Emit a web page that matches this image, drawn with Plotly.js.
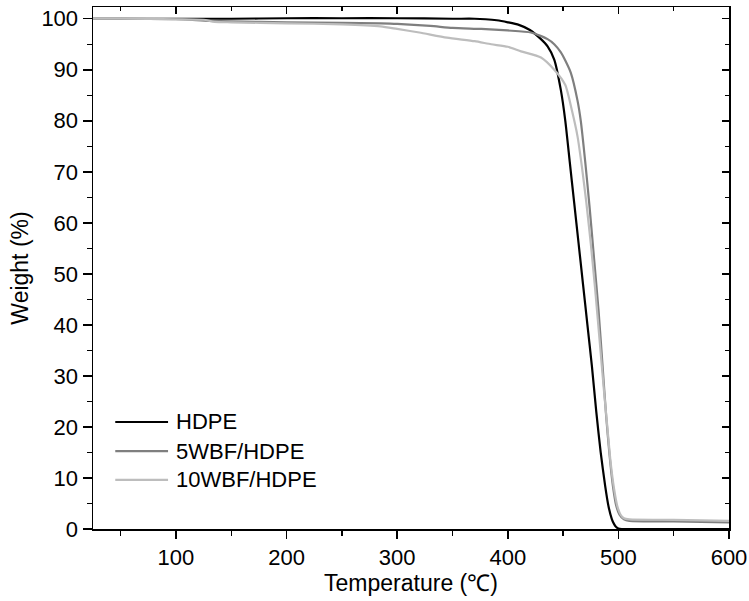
<!DOCTYPE html>
<html>
<head>
<meta charset="utf-8">
<script src="https://cdn.plot.ly/plotly-3.0.1.min.js"></script>
<style>html,body{margin:0;padding:0;background:#fff;}#chart{width:749px;height:601px;}</style>
</head>
<body>
<div id="chart"></div>
<script>
// Temperature (°C) and weight (%)
const hdpeT = [25,50,100,150,200,250,300,350,370,380,390,400,410,420,430,436,442,448,452,456,460,464,468,472,476,480,484,488,491,494,496,498,500,503,510,550,600];
const hdpeW = [100,100,100,100,100.1,100.1,100.1,100,100,99.9,99.7,99.3,98.8,97.8,96,94.6,92,86,80,72,64,56,48,40,32,23,15,8.5,4.5,2,1,0.4,0.1,0,0,0,0];

const wbf5T = [25,50,100,130,150,200,250,285,300,330,350,376,400,421,436,442,448,452,457,463,466,470,474,478,482,486,489,492,495,498,501,505,510,550,600];
const wbf5W = [100,100,99.9,99.6,99.5,99.3,99.2,99.1,99,98.6,98.2,98,97.7,97.3,96,95,93.4,91.8,89.4,84,80,72,63,53,43,31,22,14.5,8.5,4.6,2.8,1.9,1.6,1.5,1.3];

const wbf10T = [25,50,100,125,135,150,200,250,285,300,320,345,370,385,400,412,430,442,452,458,463,467,471,475,479,483,487,490,493,496,499,502,505,510,550,600];
const wbf10W = [100,100,99.9,99.8,99.4,99.3,99.1,98.9,98.5,98,97.3,96.3,95.6,95,94.5,93.6,92.4,90,87,82,77,71,64,56,47,37,27,20,13,8,4.5,2.8,2.1,1.9,1.8,1.6];

const xTicks = [100,200,300,400,500,600];
const yTicks = [0,10,20,30,40,50,60,70,80,90,100];
const seriesNames = ['HDPE','5WBF/HDPE','10WBF/HDPE'];
const seriesColors = ['#000000','#7f7f7f','#bdbdbd'];

const FONT = 'Liberation Sans, Arial, sans-serif';
const xs = [hdpeT, wbf5T, wbf10T];
const ys = [hdpeW, wbf5W, wbf10W];
const traces = xs.map((x,i)=>({
  x: x, y: ys[i], type:'scatter', mode:'lines', name: seriesNames[i],
  line:{color:seriesColors[i], width:2.2, shape:'spline', smoothing:0.6}
}));
// invisible trace to activate the mirrored top/right axes
traces.push({x:[25], y:[0], xaxis:'x2', yaxis:'y2', mode:'markers', marker:{opacity:0}, showlegend:false, hoverinfo:'skip'});

// legend drawn inside the plot (line sample + label per series)
const legRows = [0.205, 0.149, 0.094];
const shapes = seriesNames.map((n,i)=>({type:'line', xref:'paper', yref:'paper', x0:0.035, x1:0.118, y0:legRows[i], y1:legRows[i], line:{color:seriesColors[i], width:2.2}}));
const annotations = seriesNames.map((n,i)=>({text:n, xref:'paper', yref:'paper', x:0.128, y:legRows[i], xanchor:'left', yanchor:'middle', showarrow:false, font:{size:22, family:FONT, color:'#000'}}));

const minorX = [50,150,250,350,450,550];
const minorY = [5,15,25,35,45,55,65,75,85,95];
const xr = [25, 600], yr = [0, 102.3];
const layout = {
  width:749, height:601,
  margin:{l:93, r:20, t:7, b:72},
  paper_bgcolor:'#fff', plot_bgcolor:'#fff',
  font:{family:FONT, size:22, color:'#000'},
  showlegend:false,
  shapes: shapes, annotations: annotations,
  xaxis:{range:xr, tickmode:'array', tickvals:xTicks, ticks:'outside', ticklen:8, tickwidth:1.5, tickcolor:'#000',
    minor:{tickvals:minorX, ticks:'outside', ticklen:5, tickwidth:1.5, tickcolor:'#000'},
    showline:true, linecolor:'#000', linewidth:1.5, showgrid:false, zeroline:false,
    title:{text:'Temperature (℃)', font:{size:23, family:FONT}, standoff:0}, tickfont:{size:22}},
  yaxis:{range:yr, tickmode:'array', tickvals:yTicks, ticks:'outside', ticklen:9, tickwidth:1.5, tickcolor:'#000',
    minor:{tickvals:minorY, ticks:'outside', ticklen:5, tickwidth:1.5, tickcolor:'#000'},
    showline:true, linecolor:'#000', linewidth:1.5, showgrid:false, zeroline:false,
    title:{text:'Weight (%)', font:{size:23, family:FONT}, standoff:6}, tickfont:{size:22}},
  xaxis2:{range:xr, overlaying:'x', side:'top', anchor:'y2', tickmode:'array', tickvals:xTicks, ticks:'inside', ticklen:7, tickwidth:1.5, tickcolor:'#000',
    minor:{tickvals:minorX, ticks:'inside', ticklen:4, tickcolor:'#000'},
    showticklabels:false, showline:true, linecolor:'#000', linewidth:1.5, showgrid:false, zeroline:false},
  yaxis2:{range:yr, overlaying:'y', side:'right', anchor:'x2', tickmode:'array', tickvals:yTicks, ticks:'inside', ticklen:7, tickwidth:1.5, tickcolor:'#000',
    minor:{tickvals:minorY, ticks:'inside', ticklen:4, tickcolor:'#000'},
    showticklabels:false, showline:true, linecolor:'#000', linewidth:1.5, showgrid:false, zeroline:false}
};
Plotly.newPlot('chart', traces, layout, {staticPlot:true, displayModeBar:false});
</script>
</body>
</html>
